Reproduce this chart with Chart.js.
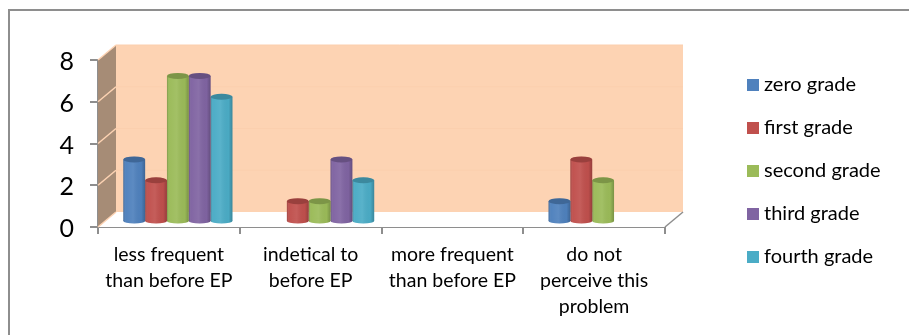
<!DOCTYPE html>
<html>
<head>
<meta charset="utf-8">
<title>Chart</title>
<script src="https://cdn.jsdelivr.net/npm/chart.js@4"></script>
<style>
  html, body { margin: 0; padding: 0; background: #fff; overflow: hidden; }
  #wrap { position: relative; width: 909px; height: 335px; }
  #frame { position: absolute; left: 8px; top: 9px; right: -5px; bottom: -5px; border: 2px solid #8e8e8e; }
  canvas { position: absolute; left: 0; top: 0; }
</style>
</head>
<body>
<div id="wrap">
  <div id="frame"></div>
  <canvas id="chartGrades" width="909" height="335"></canvas>
</div>
<script>
// Data
const categories = [
  ['less frequent', 'than before EP'],
  ['indetical to', 'before EP'],
  ['more frequent', 'than before EP'],
  ['do not', 'perceive this', 'problem']
];
const seriesNames = ['zero grade', 'first grade', 'second grade', 'third grade', 'fourth grade'];
const zeroGrade = [3, 0, 0, 1];
const firstGrade = [2, 1, 0, 3];
const secondGrade = [7, 1, 0, 2];
const thirdGrade = [7, 3, 0, 0];
const fourthGrade = [6, 2, 0, 0];
const seriesColors = ['#4f81bd', '#c0504d', '#9bbb59', '#8064a2', '#4bacc6'];

const FONT = 'Lato, Carlito, sans-serif';
const AXIS = '#8e8e8e';
// 3D look: how far the back wall sits from the front axes, and where the bars stand
const DEPTH_X = 18, DEPTH_Y = 15;
const BAR_X = 9, BAR_Y = 5;

// Walls and floor behind the bars
const walls = {
  id: 'walls',
  beforeDatasetsDraw(chart) {
    const { ctx, chartArea: a, scales } = chart;
    ctx.save();
    // back wall
    ctx.fillStyle = '#fdd3b3';
    ctx.fillRect(a.left + DEPTH_X, a.top - DEPTH_Y, a.right - a.left, a.bottom - a.top);
    // floor
    ctx.fillStyle = '#ffffff';
    ctx.beginPath();
    ctx.moveTo(a.left, a.bottom);
    ctx.lineTo(a.left + DEPTH_X, a.bottom - DEPTH_Y);
    ctx.lineTo(a.right + DEPTH_X, a.bottom - DEPTH_Y);
    ctx.lineTo(a.right, a.bottom);
    ctx.closePath();
    ctx.fill();
    // side wall
    ctx.fillStyle = '#a68c76';
    ctx.beginPath();
    ctx.moveTo(a.left, a.top);
    ctx.lineTo(a.left + DEPTH_X, a.top - DEPTH_Y);
    ctx.lineTo(a.left + DEPTH_X, a.bottom - DEPTH_Y);
    ctx.lineTo(a.left, a.bottom);
    ctx.closePath();
    ctx.fill();
    // grid lines over side wall and back wall
    scales.y.ticks.forEach(t => {
      const y = scales.y.getPixelForValue(t.value);
      ctx.strokeStyle = '#fdd3b3';
      ctx.lineWidth = 1.5;
      ctx.beginPath();
      ctx.moveTo(a.left, y);
      ctx.lineTo(a.left + DEPTH_X, y - DEPTH_Y);
      ctx.stroke();
      if (t.value > 0) {
        ctx.strokeStyle = '#fbcfae';
        ctx.lineWidth = 1;
        ctx.beginPath();
        ctx.moveTo(a.left + DEPTH_X, y - DEPTH_Y);
        ctx.lineTo(a.right + DEPTH_X, y - DEPTH_Y);
        ctx.stroke();
      }
    });
    // right end of the floor
    ctx.strokeStyle = AXIS;
    ctx.lineWidth = 1.5;
    ctx.beginPath();
    ctx.moveTo(a.right, a.bottom);
    ctx.lineTo(a.right + DEPTH_X, a.bottom - DEPTH_Y);
    ctx.stroke();
    ctx.restore();

    // bars get drawn shifted into the depth, restored in cylinders.afterDatasetsDraw
    ctx.save();
    ctx.translate(BAR_X, -BAR_Y);
  }
};

// Turns the flat bars into cylinders: side shading, round foot, darker top
const cylinders = {
  id: 'cylinders',
  afterDatasetsDraw(chart) {
    const ctx = chart.ctx;
    chart.data.datasets.forEach((ds, i) => {
      chart.getDatasetMeta(i).data.forEach((bar, j) => {
        if (!ds.data[j]) return;
        const w = bar.width, left = bar.x - w / 2;
        const shade = ctx.createLinearGradient(left, 0, left + w, 0);
        shade.addColorStop(0, 'rgba(0,0,0,0.2)');
        shade.addColorStop(0.12, 'rgba(255,255,255,0.02)');
        shade.addColorStop(0.45, 'rgba(255,255,255,0.08)');
        shade.addColorStop(0.82, 'rgba(0,0,0,0.02)');
        shade.addColorStop(1, 'rgba(0,0,0,0.22)');
        // foot
        ctx.fillStyle = ds.backgroundColor;
        ctx.beginPath();
        ctx.ellipse(bar.x, bar.base, w / 2, 2.5, 0, 0, Math.PI * 2);
        ctx.fill();
        // side shading
        ctx.fillStyle = shade;
        ctx.beginPath();
        ctx.moveTo(left, bar.y);
        ctx.lineTo(left + w, bar.y);
        ctx.lineTo(left + w, bar.base);
        ctx.ellipse(bar.x, bar.base, w / 2, 2.5, 0, 0, Math.PI);
        ctx.closePath();
        ctx.fill();
        // top
        ctx.fillStyle = ds.backgroundColor;
        ctx.beginPath();
        ctx.ellipse(bar.x, bar.y, w / 2, 3, 0, 0, Math.PI * 2);
        ctx.fill();
        ctx.fillStyle = 'rgba(0,0,0,0.2)';
        ctx.fill();
      });
    });
    ctx.restore();
  }
};

// Legend sits well away from the plot, so it is placed by hand
const sideLegend = {
  id: 'sideLegend',
  afterDraw(chart) {
    const ctx = chart.ctx;
    ctx.save();
    ctx.font = '20px ' + FONT;
    ctx.textBaseline = 'middle';
    chart.data.datasets.forEach((ds, i) => {
      const y = 85 + i * 43;
      ctx.fillStyle = ds.backgroundColor;
      ctx.fillRect(747, y - 6, 12, 12);
      ctx.fillStyle = '#000';
      ctx.fillText(ds.label, 764, y);
    });
    ctx.restore();
  }
};

const seriesValues = [zeroGrade, firstGrade, secondGrade, thirdGrade, fourthGrade];

new Chart(document.getElementById('chartGrades'), {
  type: 'bar',
  data: {
    labels: categories,
    datasets: seriesNames.map((name, i) => ({
      label: name,
      data: seriesValues[i],
      backgroundColor: seriesColors[i]
    }))
  },
  options: {
    responsive: false,
    animation: false,
    layout: { padding: { top: 60, right: 244, left: 0, bottom: 0 } },
    datasets: { bar: { categoryPercentage: 0.77, barPercentage: 1 } },
    plugins: { legend: { display: false }, tooltip: { enabled: false } },
    scales: {
      x: {
        afterFit: s => { s.height = 108; },
        grid: { drawOnChartArea: false, color: AXIS, lineWidth: 2, tickLength: 7 },
        border: { color: AXIS, width: 2 },
        ticks: {
          color: '#000',
          maxRotation: 0,
          autoSkip: false,
          padding: 8,
          font: { family: FONT, size: 19.5, lineHeight: '26px' }
        }
      },
      y: {
        min: 0,
        max: 8,
        afterFit: s => { s.width = 98; },
        grid: { drawOnChartArea: false, color: AXIS, lineWidth: 2, tickLength: 8 },
        border: { color: AXIS, width: 2 },
        ticks: {
          stepSize: 2,
          color: '#000',
          padding: 16,
          labelOffset: 2,
          font: { family: FONT, size: 25 }
        }
      }
    }
  },
  plugins: [walls, cylinders, sideLegend]
});
</script>
</body>
</html>
